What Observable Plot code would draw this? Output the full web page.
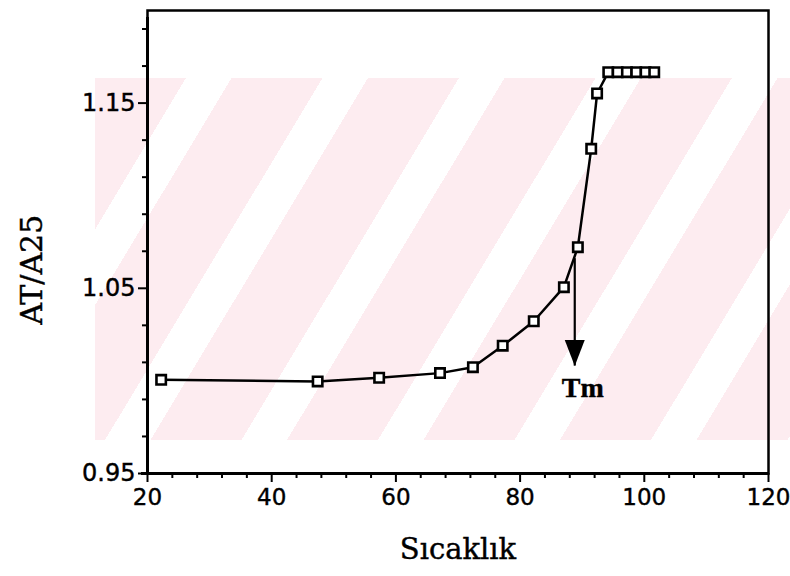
<!DOCTYPE html>
<html><head><meta charset="utf-8">
<script src="https://cdn.jsdelivr.net/npm/d3@7"></script>
<script src="https://cdn.jsdelivr.net/npm/@observablehq/plot@0.6"></script>
<style>
body{margin:0;background:#fff;}
#wrap{position:relative;width:790px;height:576px;overflow:hidden;}
#wm{position:absolute;left:95px;top:78px;width:695px;height:362px;background:repeating-linear-gradient(121deg,#fdecf0 0 78px,#ffffff 78px 117px);}
#chart{position:absolute;left:0;top:0;}
#chart svg text{stroke:black;stroke-width:0.4px;}
</style></head><body>
<div id="wrap"><div id="wm"></div><div id="chart"></div></div>
<script>
// Data
const temperature = [22.2, 47.4, 57.3, 67.1, 72.4, 77.2, 82.2, 87.05, 89.3, 91.45, 92.4, 94.2, 95.7, 97.2, 98.7, 100.2, 101.6];
const ratio = [1.0006, 0.9997, 1.0017, 1.0042, 1.0074, 1.019, 1.0322, 1.0506, 1.0722, 1.1253, 1.1552, 1.1667, 1.1667, 1.1667, 1.1667, 1.1667, 1.1667];
const xMajorTicks = [20, 40, 60, 80, 100, 120];
const xMinorTicks = [24, 28, 32, 36, 44, 48, 52, 56, 64, 68, 72, 76, 84, 88, 92, 96, 104, 108, 112, 116];
const yMajorTicks = [0.95, 1.05, 1.15];
const yMinorTicks = [0.97, 0.99, 1.01, 1.03, 1.07, 1.09, 1.11, 1.13, 1.17, 1.19];
const tmValue = 88.8;
const tmArrowTop = 1.066;
const tmArrowTip = 1.008;
const xTitle = "Sıcaklık";
const yTitle = "AT/A25";
const yTitlePosition = 1.06;

const points = temperature.map((t, i) => ({t, r: ratio[i]}));

const downTriangle = {
  draw(context, size) {
    const r = Math.sqrt(size / Math.PI);
    context.moveTo(-r, -2.6 * r);
    context.lineTo(r, -2.6 * r);
    context.lineTo(0, 0);
    context.closePath();
  }
};

const chart = Plot.plot({
  width: 790, height: 576,
  marginLeft: 147, marginRight: 22, marginTop: 10, marginBottom: 103,
  style: {background: "transparent", fontFamily: "'DejaVu Sans', sans-serif", fontSize: "24px", color: "black"},
  x: {domain: [20, 120]},
  y: {domain: [0.95, 1.2]},
  marks: [
    Plot.frame({stroke: "black", strokeWidth: 2.5}),
    Plot.ruleX([20], {y1: 0.95, y2: 1.2, stroke: "black", strokeWidth: 3, insetBottom: -7}),
    Plot.ruleY([0.95], {x1: 20, x2: 120, stroke: "black", strokeWidth: 3, insetLeft: -6}),
    Plot.axisX(xMajorTicks, {tickSize: 9, tickPadding: 6, strokeWidth: 2, label: null, tickFormat: d => String(d), fontSize: 23}),
    Plot.axisX(xMinorTicks, {tickSize: 5, strokeWidth: 2, label: null, text: null}),
    Plot.axisY(yMajorTicks, {tickSize: 9, tickPadding: 3, strokeWidth: 2, label: null, tickFormat: d3.format(".2f"), fontSize: 24}),
    Plot.axisY(yMinorTicks, {tickSize: 5, strokeWidth: 2, label: null, text: null}),
    Plot.text([xTitle], {frameAnchor: "bottom", dy: 85, fontFamily: "'DejaVu Serif', serif", fontSize: 29, letterSpacing: 1}),
    Plot.text([yTitle], {frameAnchor: "left", y: () => yTitlePosition, dx: -115, rotate: -90, textAnchor: "middle", fontFamily: "'DejaVu Serif', serif", fontSize: 30, letterSpacing: 6}),
    Plot.line(points, {x: "t", y: "r", stroke: "black", strokeWidth: 2.5}),
    Plot.ruleX([tmValue], {y1: tmArrowTop, y2: tmArrowTip, stroke: "black", strokeWidth: 2.2}),
    Plot.dot([tmValue], {x: d => d, y: () => tmArrowTip, symbol: downTriangle, r: 10, fill: "black", stroke: "none"}),
    Plot.text(["Tm"], {x: () => tmValue, y: () => tmArrowTip, dx: 8, dy: 22, fontFamily: "'Liberation Serif', serif", fontWeight: "bold", fontSize: 28}),
    Plot.dot(points, {x: "t", y: "r", symbol: "square", r: 5.3, stroke: "black", strokeWidth: 2.6, fill: "white"})
  ]
});
document.getElementById("chart").appendChild(chart);
</script>
</body></html>
